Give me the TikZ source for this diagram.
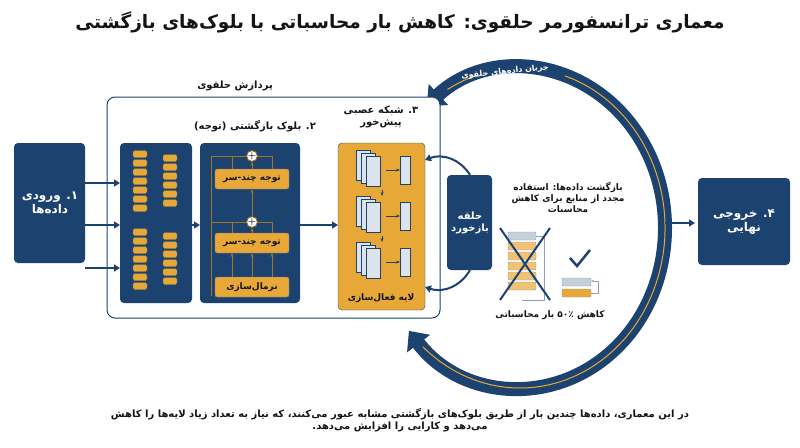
\documentclass[tikz,border=0pt]{standalone}
\usepackage{fontspec}
\newfontfamily\farsi[Script=Arabic,Extension=.ttf,UprightFont=DejaVuSans,BoldFont=DejaVuSans-Bold]{DejaVuSans}
\usetikzlibrary{arrows.meta,positioning}
\TeXXeTstate=1
\newcommand\rtl[1]{{\farsi\bfseries\beginR #1\endR}}
\definecolor{navy}{RGB}{28,66,112}
\definecolor{gold}{RGB}{232,168,56}
\definecolor{ink}{RGB}{20,20,20}
\tikzset{
  panel/.style={fill=navy,rounded corners=4pt},
  brick/.style={fill=gold,draw=navy!60!gold,rounded corners=1.5pt,minimum width=14pt,minimum height=7pt,inner sep=0pt},
  opbox/.style={fill=gold,draw=navy!70,rounded corners=2pt,minimum width=74pt,minimum height=20pt,inner sep=1pt,font=\small,text=ink},
  flow/.style={-{Triangle[length=6pt,width=7pt]},line width=2.5pt,navy},
  thin/.style={-{Stealth[length=4pt]},line width=0.8pt,gold!70!black},
  plus/.style={circle,draw=gold!60!black,fill=white,line width=1pt,minimum size=11pt,inner sep=0pt,font=\bfseries\small},
  whitelbl/.style={text=white,font=\large,align=center},
  lbl/.style={text=ink,font=\normalsize,align=center},
}
\begin{document}
\begin{tikzpicture}[x=1pt,y=-1pt]
\useasboundingbox (0,0) rectangle (800,447);
% title
\node[font=\fontsize{18.5}{22}\selectfont,text=ink] (title) at (400,22) {\rtl{معماری ترانسفورمر حلقوی: کاهش بار محاسباتی با بلوک‌های بازگشتی}};

% big loop arrow
\coordinate (c) at (520,228);
\draw[line width=14pt,navy,{Triangle[length=16pt,width=28pt]}-{Triangle[length=16pt,width=28pt]}] (c) ++(-130:145 and 160) arc[start angle=-130,end angle=140,x radius=145,y radius=160];
\draw[line width=1pt,gold] (c) ++(-120:145 and 160) arc[start angle=-120,end angle=-108,x radius=145,y radius=160];
\draw[line width=1pt,gold] (c) ++(-72:145 and 160) arc[start angle=-72,end angle=132,x radius=145,y radius=160];
\node[text=white,font=\footnotesize,rotate=6,inner sep=0pt] (flowlbl) at (505,72) {\rtl{جریان داده‌های حلقوی}};

% container
\draw[navy,line width=1pt,fill=white,rounded corners=8pt] (107,97) rectangle (440,318);
\node[lbl] (loopproc) at (235,86) {\rtl{پردازش حلقوی}};

% input
\fill[panel] (14,143) rectangle (85,263);
\node[whitelbl] (input) at (50,203) {\rtl{۱. ورودی}\\\rtl{داده‌ها}};
\foreach \y in {183,225,268}
  \draw[flow] (85,\y) -- (120,\y);

% panel 1
\fill[panel] (120,143) rectangle (192,303);
\foreach \g in {150,228}{
  \foreach \i in {0,...,6}
    \node[brick] at (140,\g+4+\i*9) {};
  \foreach \i in {0,...,5}
    \node[brick] at (170,\g+8+\i*9) {};
}
\draw[flow] (192,225) -- (200,225);

% panel 2
\node[lbl] (blocklbl) at (255,126) {\rtl{۲. بلوک بازگشتی (توجه)}};
\fill[panel] (200,143) rectangle (300,303);
\node[plus] (p1) at (252,156) {+};
\node[opbox] (att1) at (252,179) {\rtl{توجه چند-سر}};
\node[plus] (p2) at (252,222) {+};
\node[opbox] (att2) at (252,243) {\rtl{توجه چند-سر}};
\node[opbox] (norm) at (252,287) {\rtl{نرمال‌سازی}};
\draw[thin] (att1) -- (p1);
\draw[thin] (p2) -- (att1);
\draw[thin] (att2) -- (p2);
\draw[thin] (norm) -- (att2);
\foreach \dx in {-20,20}{
  \draw[thin] (252+\dx,277) -- (252+\dx,253);
  \draw[thin,-] (252+\dx,233) -- (252+\dx,222) -- (p2);
  \draw[thin,-] (252+\dx,169) -- (252+\dx,156) -- (p1);
}
\draw[thin,-] (211,296) -- (211,222) -- (p2);
\draw[thin,-] (211,222) -- (211,156) -- (p1);
\draw[flow] (300,225) -- (338,225);

% panel 3
\node[lbl] (fflbl) at (381,117) {\rtl{۳. شبکه عصبی}\\\rtl{پیش‌خور}};
\fill[gold,draw=navy,rounded corners=4pt] (338,143) rectangle (425,310);
\foreach \y in {170,216,262}{
  \foreach \k in {0,1,2}
    \draw[fill=navy!15,draw=navy] (356+\k*5,\y-20+\k*3) rectangle (370+\k*5,\y+10+\k*3);
  \draw[thin,navy] (386,\y) -- (400,\y);
  \draw[fill=navy!15,draw=navy] (400,\y-14) rectangle (410,\y+14);
}
\draw[thin,navy] (382,190) -- (382,196);
\draw[thin,navy] (382,236) -- (382,242);
\node[font=\small,text=ink] (actlbl) at (381,298) {\rtl{لایه فعال‌سازی}};

% feedback
\fill[panel] (447,175) rectangle (492,270);
\node[whitelbl,font=\normalsize] (fb) at (470,223) {\rtl{حلقه}\\\rtl{بازخورد}};
\draw[flow,line width=2pt] (470,175) to[bend right=40] (425,160);
\draw[flow,line width=2pt] (470,270) to[bend left=40] (425,287);

% reuse note
\node[lbl,font=\small] (reuse) at (568,198) {\rtl{بازگشت داده‌ها: استفاده}\\\rtl{مجدد از منابع برای کاهش}\\\rtl{محاسبات}};
\fill[navy!25,draw=navy!50,rounded corners=1pt] (508,232) rectangle (536,240);
\foreach \i in {1,...,5}
  \fill[gold!70,draw=navy!50,rounded corners=1pt] (508,232+\i*10) rectangle (536,240+\i*10);
\draw[navy!50] (536,236) -- (544,236) -- (544,300) -- (522,300);
\draw[line width=2pt,navy] (500,228) -- (550,300);
\draw[line width=2pt,navy] (550,228) -- (500,300);
\draw[line width=2.5pt,navy] (570,258) -- (577,266) -- (590,250);
\fill[navy!25,draw=navy!50,rounded corners=1pt] (562,278) rectangle (591,286);
\fill[gold,draw=navy!50,rounded corners=1pt] (562,289) rectangle (591,297);
\draw[navy!50,-{Stealth[length=3pt]}] (591,293) -- (598,293) -- (598,281) -- (591,281);
\node[font=\small,text=ink] (save) at (550,315) {\rtl{کاهش ۵۰٪ بار محاسباتی}};

% output
\draw[flow] (665,223) -- (695,223);
\fill[panel] (698,178) rectangle (790,265);
\node[whitelbl] (output) at (744,222) {\rtl{۴. خروجی}\\\rtl{نهایی}};

% caption
\node[font=\normalsize,text=ink,align=center] (caption) at (400,420) {\rtl{در این معماری، داده‌ها چندین بار از طریق بلوک‌های بازگشتی مشابه عبور می‌کنند، که نیاز به تعداد زیاد لایه‌ها را کاهش}\\\rtl{می‌دهد و کارایی را افزایش می‌دهد.}};
\end{tikzpicture}
\end{document}
